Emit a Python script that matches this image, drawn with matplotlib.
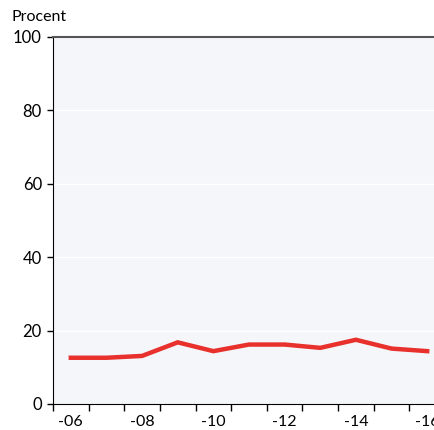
import numpy as np
import matplotlib.pyplot as plt

plt.rcParams['font.family'] = ['Lato', 'DejaVu Sans']

# Data
years = ['2006', '2007', '2008', '2009', '2010', '2011', '2012', '2013', '2014', '2015', '2016']
share = [12.6, 12.6, 13.1, 16.8, 14.4, 16.2, 16.2, 15.3, 17.5, 15.1, 14.4]
tick_labels = ['-06', '', '-08', '', '-10', '', '-12', '', '-14', '', '-16']

fig = plt.figure(figsize=(4.35, 4.30), dpi=100)
ax = fig.add_axes([53/435, 26/430, 392/435, 367/430])
ax.set_facecolor('#f5f6f9')

x = np.arange(len(years))
ax.plot(x, share, color='#e8302c', lw=3.2, solid_joinstyle='miter', zorder=3)

ax.set_xlim(-0.5, len(years) - 0.5)
ax.set_ylim(0, 100)
ax.set_yticks(range(0, 101, 20))
ax.yaxis.grid(True, color='white', lw=1)
ax.set_axisbelow(True)

# labels at points, tick marks at boundaries
ax.set_xticks(x)
ax.set_xticklabels(tick_labels)
ax.tick_params(axis='x', length=0, pad=8, labelsize=11.5)
ax.set_xticks(np.arange(-0.5, len(years)), minor=True)
ax.tick_params(axis='x', which='minor', length=5, width=1)
ax.tick_params(axis='y', length=4, width=1, labelsize=12, pad=4)

ax.spines['right'].set_visible(False)
ax.spines['top'].set_color('#555555')
ax.spines['top'].set_linewidth(1.5)

fig.text(12/435, 1 - 17/430, 'Procent', fontsize=11.5, va='center', ha='left')

fig.savefig('out.png', dpi=100)
